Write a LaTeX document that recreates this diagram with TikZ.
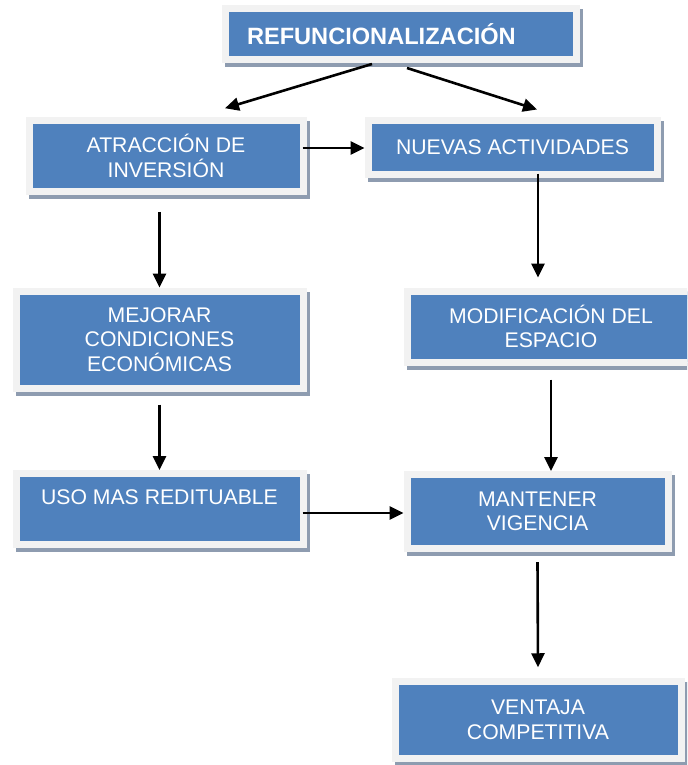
\documentclass[tikz,border=0pt]{standalone}
\usepackage{fontspec}
\setmainfont{Liberation Sans}
\usepackage{tikz}
\usetikzlibrary{shapes,arrows.meta,positioning,calc,shadows}

\definecolor{boxblue}{HTML}{4F81BD}
\definecolor{framegray}{HTML}{F2F2F2}
\definecolor{shadowgray}{HTML}{8E9CB0}

\begin{document}
\begin{tikzpicture}[x=0.5pt, y=-0.5pt,
    flow box/.style={rectangle, fill=boxblue, draw=framegray, line width=3.5pt, outer sep=1.75pt,
                     text=white, align=center, inner sep=2pt,
                     font=\fontsize{10.6}{12.2}\selectfont,
                     drop shadow={shadow xshift=1.5pt, shadow yshift=-2pt, fill=shadowgray,
                                  draw=shadowgray, line width=3.5pt, opacity=1}},
    flow arrow/.style={-{Triangle[length=7pt, width=6.5pt]}, line width=1.3pt, black}]

    \useasboundingbox (0,0) rectangle (687,765);
    \clip (0,0) rectangle (687,765);

    % boxes
    \node [flow box, font=\bfseries\fontsize{11.8}{14}\selectfont, align=left, text width=154pt,
           inner xsep=10.75pt, minimum height=25.5pt] (refun) at (401,34) {REFUNCIONALIZACIÓN};
    \node [flow box, minimum width=137pt, minimum height=35.25pt] (atrac) at (166,156) {ATRACCIÓN DE\\INVERSIÓN};
    \node [flow box, minimum width=144.5pt, minimum height=26.5pt] (nuevas) at (512.5,147.5) {NUEVAS ACTIVIDADES};
    \node [flow box, minimum width=143.5pt, minimum height=48.5pt] (mejorar) at (159.5,339.5) {MEJORAR\\CONDICIONES\\ECONÓMICAS};
    \node [flow box, minimum width=144pt, minimum height=35.5pt] (modif) at (551,326.5) {MODIFICACIÓN DEL\\ESPACIO};
    \node [flow box, minimum width=143.5pt, minimum height=35.5pt, text depth=12pt] (uso) at (159.5,509) {USO MAS REDITUABLE};
    \node [flow box, minimum width=130.5pt, minimum height=37pt] (mantener) at (537.5,511.5) {MANTENER\\VIGENCIA};
    \node [flow box, minimum width=143pt, minimum height=38.25pt] (ventaja) at (538,720) {VENTAJA\\COMPETITIVA};

    % connectors
    \draw [flow arrow] ([xshift=-14.5pt, yshift=-0.5pt]refun.south) -- ([xshift=29.5pt, yshift=4.5pt]atrac.north);
    \draw [flow arrow] ([xshift=3pt, yshift=-2.5pt]refun.south) -- ([xshift=12.25pt, yshift=4pt]nuevas.north);
    \draw [flow arrow] ([xshift=-2pt, yshift=4pt]atrac.east) coordinate (a1) -- (a1 -| nuevas.west);
    \draw [flow arrow] ([yshift=-8.5pt]atrac.south -| mejorar.north) -- (mejorar.north);
    \draw [flow arrow] ([xshift=12.75pt, yshift=2pt]nuevas.south) coordinate (a2) -- ([yshift=5pt]modif.north -| a2);
    \draw [flow arrow] ([yshift=-6.5pt]mejorar.south) -- (uso.north);
    \draw [flow arrow] ([yshift=-7pt]modif.south) coordinate (a3) -- (a3 |- mantener.north);
    \draw [flow arrow] ([xshift=-2pt, yshift=-2pt]uso.east) coordinate (a4) -- (a4 -| mantener.west);
    \draw [flow arrow] ([yshift=-5pt]mantener.south) -- ([yshift=5.5pt]ventaja.north);

\end{tikzpicture}
\end{document}
